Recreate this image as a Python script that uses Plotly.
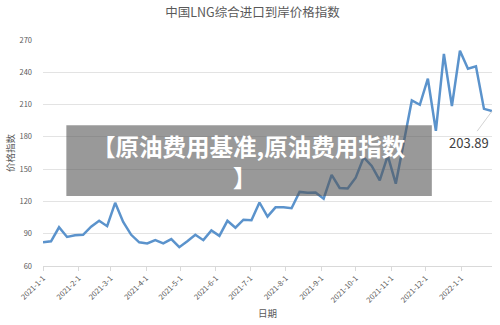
import plotly.graph_objects as go
import pandas as pd

title_text = "中国LNG综合进口到岸价格指数"
x_title = "日期"
y_title = "价格指数"
overlay_line1 = "<b>【原油费用基准,原油费用指数</b>"
overlay_line2 = "<b>】</b>"
last_label = "203.89"

start_date = "2021-01-01"
values = [
    82, 83, 96, 87, 88.5, 89, 96.5, 102, 97, 118.7,
    101, 89, 82, 81, 84, 81, 85, 77.5, 83, 89,
    84, 93, 88, 102, 95.6, 103, 102.6, 119, 106, 114.5,
    114.5, 113.7, 128.8, 128, 128.2, 122.6, 144.7, 132.5, 132, 142,
    161, 153, 139.5, 162.5, 136.5, 176, 213.8, 209.8, 234, 185.6,
    257, 208.6, 260, 243.3, 245.5, 206, 203.89,
]
dates = pd.date_range(start_date, periods=len(values), freq="7D")
tick_dates = pd.date_range("2021-01-01", "2022-01-01", freq="MS")
y_ticks = [60, 90, 120, 150, 180, 210, 240, 270]

fig = go.Figure()
fig.add_trace(go.Scatter(
    x=dates, y=values, mode="lines",
    line=dict(color="#5b93cc", width=2.5),
    hoverinfo="skip", showlegend=False,
))

grey = "#595959"
fig.update_layout(
    width=500, height=325,
    margin=dict(l=43, r=8, t=40, b=57),
    paper_bgcolor="white", plot_bgcolor="white",
    font=dict(family="Noto Sans CJK SC, Noto Sans, sans-serif", color=grey),
    title=dict(text=title_text, x=0.505, xanchor="center", y=0.975, yanchor="top",
               font=dict(size=12.5, color=grey)),
    showlegend=False,
)
fig.update_xaxes(
    type="date",
    range=[dates[0], dates[-1]],
    tickvals=list(tick_dates),
    ticktext=[f"{d.year}-{d.month}-{d.day}" for d in tick_dates],
    tickangle=-45,
    tickfont=dict(size=7.5, color=grey),
    showgrid=False, zeroline=False,
    showline=True, linecolor="#d9d9d9", linewidth=1,
    ticks="outside", ticklen=4, tickcolor="#d9d9d9",
    title=dict(text=x_title, font=dict(size=9.5, color=grey), standoff=6),
)
fig.update_yaxes(
    range=[60, 270],
    tickvals=y_ticks,
    tickfont=dict(size=7.5, color=grey),
    showgrid=True, gridcolor="#e3e3e3", gridwidth=1,
    zeroline=False, showline=False, ticks="",
    ticklabelstandoff=10,
    title=dict(text=y_title, font=dict(size=9.5, color=grey), standoff=3),
)

# semi-transparent overlay box
fig.add_shape(type="rect", xref="paper", yref="paper",
              x0=0.052, x1=0.866, y0=0.310, y1=0.623,
              fillcolor="rgba(85,85,85,0.6)", line=dict(width=0), layer="above")
overlay_font = dict(size=23.5, color="white", family="Noto Sans CJK SC")
fig.add_annotation(xref="paper", yref="paper", x=0.458, y=0.531,
                   text=overlay_line1, showarrow=False, font=overlay_font,
                   xanchor="center", yanchor="middle")
fig.add_annotation(xref="paper", yref="paper", x=0.450, y=0.392,
                   text=overlay_line2, showarrow=False, font=overlay_font,
                   xanchor="center", yanchor="middle")
fig.add_annotation(x=dates[-1], y=values[-1], text=last_label,
                   showarrow=True, arrowhead=0, arrowwidth=0.8, arrowcolor="#c8c8c8",
                   ax=-23, ay=31, font=dict(size=13, color="#404040"))

fig.write_html("out.html")
